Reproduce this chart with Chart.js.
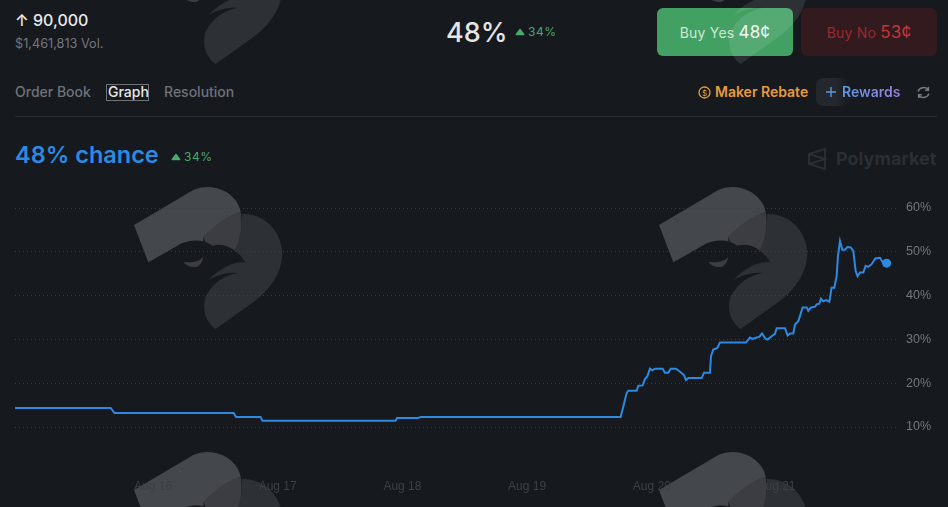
<!DOCTYPE html>
<html>
<head>
<meta charset="utf-8">
<title>90,000 chance</title>
<script src="https://cdn.jsdelivr.net/npm/chart.js@4"></script>
<style>
html,body{margin:0;padding:0;background:#16191e;}
body{width:948px;height:507px;overflow:hidden;position:relative;font-family:Inter,sans-serif;}
.t{position:absolute;white-space:nowrap;line-height:1;}
.btn{position:absolute;top:8px;width:136px;height:48px;border-radius:6px;text-align:center;line-height:48px;font-size:14px;letter-spacing:.2px;}
.btn b{font-weight:400;font-size:17px;}
#marks{position:absolute;left:0;top:0;}
#wrap{position:absolute;left:0;top:0;width:948px;height:507px;}
</style>
</head>
<body>
<div class="t" style="left:15px;top:12px;font-size:16px;font-weight:500;color:#e9eaeb;">↑ 90,000</div>
<div class="t" style="left:15px;top:38px;font-size:12.700px;color:#74777d;">$1,461,813 Vol.</div>
<div class="t" style="left:446px;top:19px;font-size:27px;font-weight:500;color:#e4e5e6;">48%</div>
<svg class="t" style="left:515px;top:28px;" width="10" height="8" viewBox="0 0 10 8"><path d="M5 1.500 L8.700 6.500 H1.300 Z" fill="#4aa96c" stroke="#4aa96c" stroke-width="1.500" stroke-linejoin="round"/></svg>
<div class="t" style="left:528px;top:26px;font-size:12px;color:#4aa96c;letter-spacing:.6px;">34%</div>
<div class="btn" style="left:657px;background:#42a062;color:#cfe7d8;">Buy Yes <b style="color:#f2f7f4;">48¢</b></div>
<div class="btn" style="left:801px;background:#321a1e;color:#9a2a30;">Buy No <b style="color:#c93538;">53¢</b></div>

<div class="t" style="left:15px;top:85px;font-size:14px;font-weight:500;color:#6f737a;">Order Book</div>
<div class="t" style="left:106px;top:84px;width:40px;height:14px;padding:0 0 1px 1px;font-size:14px;font-weight:500;color:#e6e7e8;border:1px solid #6f7276;">Graph</div>
<div class="t" style="left:164px;top:85px;font-size:14px;font-weight:500;color:#6f737a;">Resolution</div>
<svg class="t" style="left:698px;top:86px;" width="13" height="13" viewBox="0 0 13 13"><circle cx="6.5" cy="6.5" r="5.5" fill="none" stroke="#e59c3f" stroke-width="1.3"/><text x="6.5" y="9.5" font-size="8" text-anchor="middle" fill="#e59c3f" font-family="Inter">$</text></svg>
<div class="t" style="left:715px;top:85px;font-size:14px;font-weight:600;color:#e59c3f;">Maker Rebate</div>
<div class="t" style="left:816px;top:78px;width:34px;height:28px;border-radius:7px;background:linear-gradient(90deg,#24282e 60%,#16191e);"></div>
<svg class="t" style="left:826px;top:87px;" width="10" height="10" viewBox="0 0 10 10" stroke="#5f97e0" stroke-width="1.400"><path d="M5 0 V10 M0 5 H10"/></svg>
<div class="t" style="left:842px;top:85px;font-size:14px;font-weight:600;background:linear-gradient(90deg,#5f9ae6,#a07fdc);-webkit-background-clip:text;background-clip:text;color:transparent;">Rewards</div>
<svg class="t" style="left:917px;top:86px;" width="13" height="13" viewBox="0 0 12 12" fill="none" stroke="#777b82" stroke-width="1.4"><path d="M1 5 C2 1.5 8 0 10.5 3.5 M10.5 1 V4 H7.5"/><path d="M11 7 C10 10.5 4 12 1.5 8.500 M1.500 11 V8 H4.500"/></svg>
<div class="t" style="left:15px;top:143px;font-size:23.500px;font-weight:600;color:#2d8ae2;">48% chance</div>
<svg class="t" style="left:171px;top:153px;" width="10" height="8" viewBox="0 0 10 8"><path d="M5 1.500 L8.700 6.500 H1.300 Z" fill="#4aa96c" stroke="#4aa96c" stroke-width="1.500" stroke-linejoin="round"/></svg>
<div class="t" style="left:184px;top:151px;font-size:12px;color:#4aa96c;letter-spacing:.6px;">34%</div>
<div class="t" style="left:15px;top:116px;width:922px;height:1px;background:#2a2e33;"></div>
<svg class="t" style="left:807px;top:147px;" width="20" height="24" viewBox="0 0 20 24" fill="none" stroke="#2a2e35" stroke-width="2"><path d="M18 2 V22 L2 17 V7 Z M2 7 L18 12 L2 17"/></svg>
<div class="t" style="left:836px;top:150px;font-size:18px;font-weight:700;color:#2a2e35;">Polymarket</div>

<svg id="marks" width="948" height="507">
  <defs>
    <mask id="cut" maskUnits="userSpaceOnUse" x="0" y="0" width="510" height="495">
      <rect width="510" height="495" fill="#fff"/>
      <path d="M70 262 L170 205 C200 193 235 192 262 212 C290 205 325 210 362 262 C330 258 290 275 250 315 C280 298 310 292 338 294 C300 300 262 325 245 360 L100 360 Z" fill="#000"/>
    </mask>
    <g id="raven" transform="scale(.3333)">
      <g mask="url(#cut)" fill="#fff">
        <path d="M27 150 L205 45 C260 20 335 50 347 110 C310 120 270 150 235 185 L235 262 L70 262 Z" fill-opacity=".2"/>
        <path d="M347 110 C352 150 350 180 330 225 L250 225 L235 185 C270 150 310 120 347 110 Z" fill-opacity=".16"/>
        <path d="M350 117 C420 115 470 170 472 235 C470 300 430 350 380 385 L272 462 C240 440 228 400 245 355 L250 225 L330 225 C350 180 352 150 350 117 Z" fill-opacity=".1"/>
      </g>
      <path d="M175 260 C195 265 225 260 235 245 C232 265 220 278 205 276 C190 275 180 268 175 260 Z" fill="#fff" fill-opacity=".16"/>
    </g>
  </defs>
  <use href="#raven" x="125" y="175"/>
  <use href="#raven" x="650" y="175"/>
  <use href="#raven" x="125" y="-90"/>
  <use href="#raven" x="650" y="-90"/>
  <use href="#raven" x="125" y="440"/>
  <use href="#raven" x="650" y="440"/>
</svg>

<div id="wrap"><canvas id="chart" width="948" height="507"></canvas></div>

<script>
// hours since Aug 16 00:00
const hours=[-26.56,-8.14,-7.41,15.51,15.97,20.69,21.07,46.67,46.96,51,51.58,90,
 90.52,91.16,91.48,93.09,93.41,94.24,94.69,95.14,95.65,96.1,96.61,98.09,98.54,99.18,99.63,100.66,
 101.43,102.2,102.58,103.03,105.6,106.05,107.2,107.39,107.84,108.61,109.12,114.13,114.9,115.41,
 116.18,116.69,117.21,117.91,118.3,119.07,119.71,120.03,121.63,122.15,122.6,123.24,123.56,124.2,
 125.03,125.8,126.12,126.57,127.41,127.73,128.24,128.56,129.01,129.52,130.17,130.61,131.13,131.58,
 131.83,132.22,132.67,133.18,133.63,134.27,134.79,135.23,135.62,136.07,136.71,137.16,137.67,138.31,
 139.02,139.92,140.56,141.2];
const chance=[14.34,14.34,13.2,13.2,12.3,12.3,11.4,11.4,12.05,12.05,12.3,12.3,
 14.68,17.74,18.27,18.27,19.42,19.5,20.95,21.56,23.32,22.94,23.32,23.32,22.4,22.4,23.32,23.32,
 22.63,21.87,20.72,21.18,21.18,22.4,22.4,26.15,27.68,28.06,29.28,29.28,30.43,30.12,
 30.43,30.58,31.35,30.12,29.97,30.73,31.27,32.57,32.57,30.89,31.35,31.35,33.41,34.17,
 37.31,37.31,36.54,37.23,37.46,38,38.15,39.3,38.69,38.99,38.61,41.82,41.82,44.5,
 49.08,52.45,50.46,50.46,51.07,50.99,50.23,45.64,44.42,45.26,45.26,46.79,46.56,47.17,
 48.47,48.62,47.4,47.4];
const tickHours=[0,24,48,72,96,120];
const tickLabels=["Aug 16","Aug 17","Aug 18","Aug 19","Aug 20","Aug 21"];
const yTicks=[10,20,30,40,50,60];

const last=hours.length-1;
new Chart(document.getElementById("chart"),{
 type:"line",
 data:{datasets:[{
  data:hours.map((h,i)=>({x:h,y:chance[i]})),
  borderColor:"#2d8ae2",
  backgroundColor:"#2d8ae2",
  borderWidth:2,
  tension:0,
  clip:false,
  pointRadius:c=>c.dataIndex===last?4.5:0,
  pointBorderWidth:0
 }]},
 options:{
  responsive:false,
  animation:false,
  layout:{padding:{left:15,top:208,right:0,bottom:0}},
  plugins:{legend:{display:false},tooltip:{enabled:false}},
  scales:{
   x:{
    type:"linear",
    min:-26.56,
    max:143,
    grid:{display:false},
    border:{display:false},
    afterBuildTicks:s=>{s.ticks=tickHours.map(v=>({value:v}));},
    afterFit:s=>{s.height=80;},
    ticks:{
     autoSkip:false,
     maxRotation:0,
     padding:44,
     color:"#3d4045",
     font:{family:"Liberation Sans",size:12},
     callback:v=>tickLabels[tickHours.indexOf(v)]
    }
   },
   y:{
    position:"right",
    min:10,
    max:60,
    grid:{color:"#3b3e43",drawTicks:false},
    border:{display:false,dash:[1,3]},
    afterBuildTicks:s=>{s.ticks=yTicks.map(v=>({value:v}));},
    afterFit:s=>{s.width=52;},
    ticks:{
     padding:10,
     color:"#74777c",
     font:{family:"Liberation Sans",size:12.5},
     callback:v=>v+"%"
    }
   }
  }
 }
});
</script>
</body>
</html>
